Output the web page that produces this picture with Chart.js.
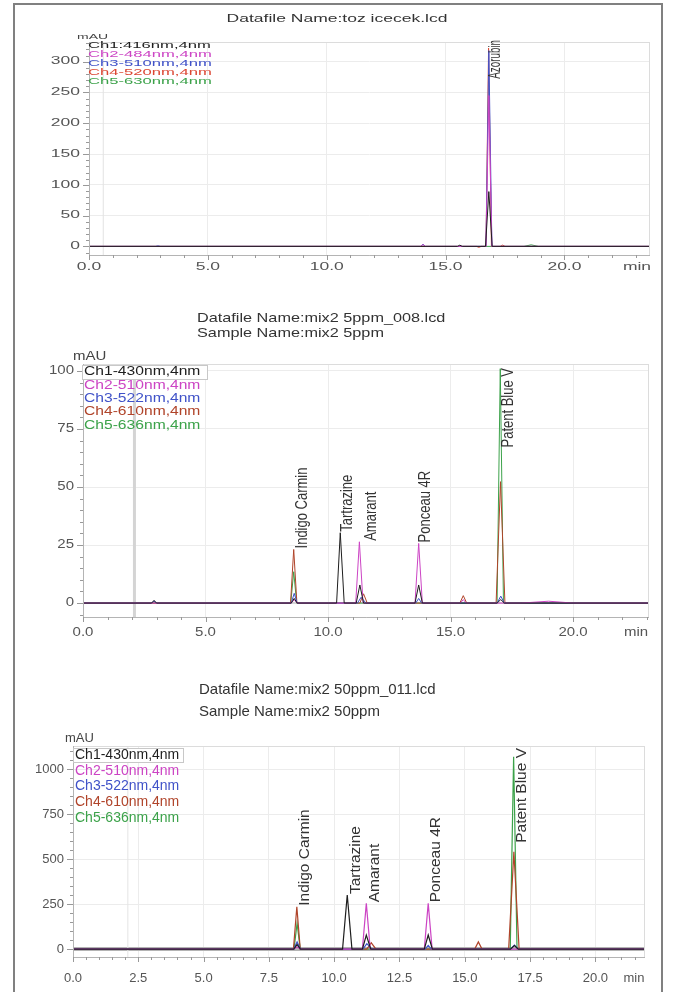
<!DOCTYPE html>
<html lang="en">
<head>
<meta charset="UTF-8">
<title>Chromatograms</title>
<script src="https://cdn.jsdelivr.net/npm/chart.js@4.4.1/dist/chart.umd.min.js"></script>
<style>
    html, body { margin:0; padding:0; background:#fff; overflow:hidden; }
    #frame { position:absolute; left:13px; top:3px; width:646px; height:1010px; border:2px solid #808080; }
    canvas { position:absolute; left:0; }
</style>
</head>
<body>
<div id="frame"></div>
<canvas id="c1" width="673" height="290" style="top:0px"></canvas>
<canvas id="c2" width="673" height="360" style="top:290px"></canvas>
<canvas id="c3" width="673" height="342" style="top:650px"></canvas>
<script>
    // ---------- data (time in min, signal in mAU) ----------

    // panel 1 : toz icecek
    const p1Title = ['Datafile Name:toz icecek.lcd'];
    const p1Legend = ['Ch1:416nm,4nm', 'Ch2-484nm,4nm', 'Ch3-510nm,4nm', 'Ch4-520nm,4nm', 'Ch5-630nm,4nm'];
    const p1Ch1 = [[0,0],[15.5,0],[15.6,2],[15.7,0],[16.68,0],[16.82,89],[16.96,0],[23.6,0]];
    const p1Ch2 = [[0,0],[13.95,0],[14.05,3],[14.15,0],[16.7,0],[16.82,245],[16.95,0],[23.6,0]];
    const p1Ch3 = [[0,0],[2.8,0],[2.9,0.8],[3.0,0],[13.95,0],[14.05,3.5],[14.15,0],[16.7,0],[16.82,318],[16.95,0],[23.6,0]];
    const p1Ch4 = [[0,0],[16.3,0],[16.4,-1.5],[16.5,0],[16.7,0],[16.81,322],[16.93,0],[17.3,0],[17.4,2],[17.5,0],[23.6,0]];
    const p1Ch5 = [[0,0],[18.3,0],[18.6,2.5],[18.9,0],[23.6,0]];
    const p1Peaks = ['Azorubin'];
    const p1PeakTimes = [16.82];
    const p1PeakApex = [322];
    const p1Markers = [0.6];

    // panel 2 : mix2 5ppm
    const p2Title = ['Datafile Name:mix2 5ppm_008.lcd', 'Sample Name:mix2 5ppm'];
    const p2Legend = ['Ch1-430nm,4nm', 'Ch2-510nm,4nm', 'Ch3-522nm,4nm', 'Ch4-610nm,4nm', 'Ch5-636nm,4nm'];
    const p2Ch1 = [[0,0],[2.8,0],[2.9,1.2],[3.0,0],[8.5,0],[8.62,2],[8.74,0],[10.35,0],[10.5,30.3],[10.66,0],[11.15,0],[11.3,7.8],[11.45,0],[13.55,0],[13.7,7.8],[13.85,0],[16.9,0],[17.05,1.5],[17.2,0],[23.1,0]];
    const p2Ch2 = [[0,0],[8.5,0],[8.62,1.5],[8.74,0],[11.13,0],[11.28,26.4],[11.43,0],[13.55,0],[13.7,25.7],[13.85,0],[15.4,0],[15.52,1.5],[15.64,0],[17.9,0],[19,0.8],[20,0],[23.1,0]];
    const p2Ch3 = [[0,0],[2.8,0],[2.9,0.8],[3.0,0],[8.5,0],[8.62,4.2],[8.74,0],[11.2,0],[11.35,2.5],[11.55,0],[13.58,0],[13.7,2],[13.82,0],[16.9,0],[17.05,3],[17.2,0],[23.1,0]];
    const p2Ch4 = [[0,0],[8.47,0],[8.6,23.1],[8.73,0],[11.3,0],[11.45,4],[11.6,0],[15.38,0],[15.52,3.2],[15.66,0],[16.86,0],[17.04,52.3],[17.22,0],[23.1,0]];
    const p2Ch5 = [[0,0],[8.48,0],[8.6,13.5],[8.72,0],[16.9,0],[17.03,101],[17.16,0],[23.1,0]];
    const p2Peaks = ['Indigo Carmin', 'Tartrazine', 'Amarant', 'Ponceau 4R', 'Patent Blue V'];
    const p2PeakTimes = [8.62, 10.45, 11.43, 13.67, 17.06];
    const p2PeakApex = [23.1, 30.3, 26.4, 25.7, 101];
    const p2Markers = [2.1];

    // panel 3 : mix2 50ppm
    const p3Title = ['Datafile Name:mix2 50ppm_011.lcd', 'Sample Name:mix2 50ppm'];
    const p3Legend = ['Ch1-430nm,4nm', 'Ch2-510nm,4nm', 'Ch3-522nm,4nm', 'Ch4-610nm,4nm', 'Ch5-636nm,4nm'];
    const p3Ch1 = [[0,0],[8.45,0],[8.58,25],[8.71,0],[10.32,0],[10.5,300],[10.68,0],[11.08,0],[11.23,78],[11.4,0],[13.45,0],[13.6,78],[13.76,0],[16.75,0],[16.9,20],[17.05,0],[21.9,0]];
    const p3Ch2 = [[0,0],[8.45,0],[8.58,12],[8.71,0],[11.08,0],[11.23,254],[11.38,0],[13.45,0],[13.6,254],[13.75,0],[21.9,0]];
    const p3Ch3 = [[0,0],[8.45,0],[8.58,40],[8.71,0],[11.1,0],[11.25,30],[11.45,0],[13.48,0],[13.6,20],[13.72,0],[16.75,0],[16.9,22],[17.05,0],[21.9,0]];
    const p3Ch4 = [[0,0],[8.44,0],[8.57,235],[8.7,0],[11.25,0],[11.42,35],[11.6,0],[15.38,0],[15.52,40],[15.66,0],[16.68,0],[16.88,540],[17.08,0],[21.9,0]];
    const p3Ch5 = [[0,0],[8.46,0],[8.58,144],[8.7,0],[16.74,0],[16.87,1068],[17.0,0],[21.9,0]];
    const p3Peaks = ['Indigo Carmin', 'Tartrazine', 'Amarant', 'Ponceau 4R', 'Patent Blue V'];
    const p3PeakTimes = [8.55, 10.5, 11.23, 13.57, 16.87];
    const p3PeakApex = [235, 300, 254, 254, 1068];
    const p3Markers = [2.1];

    // ---------- drawing ----------
    const FONT = '"Liberation Sans", Arial, sans-serif';

    function txt(ctx, s, x, y, o) {
        ctx.save();
        ctx.translate(x, y);
        ctx.scale(o.sx || 1, 1);
        if (o.rot) ctx.rotate(-Math.PI / 2);
        ctx.font = o.size + 'px ' + FONT;
        ctx.fillStyle = o.color || '#333';
        ctx.textAlign = o.align || 'left';
        ctx.textBaseline = 'middle';
        ctx.fillText(s, 0, 0);
        ctx.restore();
    }

    function textLen(ctx, s, size) {
        ctx.save();
        ctx.font = size + 'px ' + FONT;
        let w = ctx.measureText(s).width;
        ctx.restore();
        return w;
    }

    function makeChart(P) {
        let a = P.area;
        const colors = P.colors;
        let datasets = P.channels.map(function (ch, i) {
            return {
                data: ch.map(p => ({x: p[0], y: p[1]})),
                showLine: true,
                borderColor: colors[i],
                borderWidth: P.lineW,
                pointRadius: 0,
                tension: 0,
                order: i
            };
        });

        const decor = {
            id: 'decor',
            beforeDatasetsDraw(chart) {
                let ctx = chart.ctx, xs = chart.scales.x, ca = chart.chartArea;
                ctx.save();
                ctx.strokeStyle = P.markerColor;
                ctx.lineWidth = P.markerW;
                P.markers.forEach(function (t) {
                    let px = xs.getPixelForValue(t);
                    ctx.beginPath();
                    ctx.moveTo(px, ca.top);
                    ctx.lineTo(px, ca.bottom);
                    ctx.stroke();
                });
                ctx.restore();
            },
            afterDraw(chart) {
                let ctx = chart.ctx, xs = chart.scales.x, ys = chart.scales.y, ca = chart.chartArea;
                ctx.save();
                // plot frame
                ctx.strokeStyle = '#dcdcdc';
                ctx.lineWidth = 1;
                ctx.strokeRect(ca.left + 0.5, ca.top + 0.5, ca.right - ca.left - 1, ca.bottom - ca.top);
                ctx.strokeStyle = '#b4b4b4';
                ctx.beginPath();
                ctx.moveTo(ca.left + 0.5, ca.top);
                ctx.lineTo(ca.left + 0.5, ca.bottom + 0.5);
                ctx.lineTo(ca.right, ca.bottom + 0.5);
                ctx.stroke();

                // tick marks (major + minor)
                ctx.strokeStyle = '#999';
                ctx.beginPath();
                for (let k = Math.ceil(P.x[0] / P.x[3]); k * P.x[3] <= P.x[1] + 1e-9; k++) {
                    let v = k * P.x[3];
                    let major = Math.abs(v / P.x[2] - Math.round(v / P.x[2])) < 1e-6;
                    let px = Math.round(xs.getPixelForValue(v)) + 0.5;
                    ctx.moveTo(px, ca.bottom);
                    ctx.lineTo(px, ca.bottom + (major ? 5 : 3));
                }
                for (let k = Math.ceil(P.y[0] / P.y[3]); k * P.y[3] <= P.y[1] + 1e-9; k++) {
                    let v = k * P.y[3];
                    let major = Math.abs(v / P.y[2] - Math.round(v / P.y[2])) < 1e-6;
                    let py = Math.round(ys.getPixelForValue(v)) + 0.5;
                    ctx.moveTo(ca.left, py);
                    ctx.lineTo(ca.left - (major ? 6 : 3), py);
                }
                ctx.stroke();

                // tick labels
                xs.ticks.forEach(function (t) {
                    txt(ctx, t.value.toFixed(1), xs.getPixelForValue(t.value), P.xLabelY, {size: P.tick, sx: P.sx, align: 'center', color: '#555'});
                });
                ys.ticks.forEach(function (t) {
                    txt(ctx, String(t.value), P.yLabelX, ys.getPixelForValue(t.value), {size: P.tick, sx: P.sx, align: 'right', color: '#555'});
                });
                txt(ctx, 'min', P.minX, P.xLabelY, {size: P.tick, sx: P.sx, align: 'center', color: '#555'});
                txt(ctx, 'mAU', P.mau[0], P.mau[1], {size: P.mauSize, sx: P.sx, color: '#444'});

                // titles
                P.title.forEach(function (s, i) {
                    txt(ctx, s, P.titlePos[0], P.titlePos[1] + i * P.titlePos[2], {size: P.titleSize, sx: P.sx, align: P.titleAlign, color: '#333'});
                });

                // channel legend
                if (P.legendBox) {
                    let b = P.legendBox;
                    ctx.fillStyle = '#fff';
                    ctx.fillRect(b[0], b[1], b[2], b[3]);
                    ctx.strokeStyle = '#c8c8c8';
                    ctx.strokeRect(b[0] + 0.5, b[1] + 0.5, b[2], b[3]);
                }
                P.legend.forEach(function (s, i) {
                    txt(ctx, s, P.legendPos[0], P.legendPos[1] + i * P.legendPos[2], {size: P.legendSize, sx: P.sx, color: colors[i]});
                });

                // peak names
                P.peaks.forEach(function (name, i) {
                    let len = textLen(ctx, name, P.labelSize);
                    let bottom = Math.max(ys.getPixelForValue(P.apex[i]) - 1, ca.top + P.labelGap + len);
                    txt(ctx, name, xs.getPixelForValue(P.peakTimes[i]) + P.labelOff, bottom, {size: P.labelSize, sx: P.sx, rot: true, color: '#333'});
                });
                ctx.restore();
            }
        };

        return new Chart(document.getElementById(P.canvas), {
            type: 'scatter',
            data: {datasets: datasets},
            options: {
                responsive: false,
                animation: false,
                events: [],
                layout: {padding: {left: a[0], right: 673 - a[1], top: a[2], bottom: P.h - a[3]}},
                plugins: {legend: {display: false}, tooltip: {enabled: false}},
                scales: {
                    x: {
                        type: 'linear', min: P.x[0], max: P.x[1],
                        ticks: {display: false, stepSize: P.x[2], includeBounds: false},
                        grid: {color: '#ececec', drawTicks: false},
                        border: {display: false},
                        afterFit: function (s) { s.height = 0; }
                    },
                    y: {
                        type: 'linear', min: P.y[0], max: P.y[1],
                        ticks: {display: false, stepSize: P.y[2], includeBounds: false},
                        grid: {
                            drawTicks: false,
                            color: c => (c.tick && c.tick.value === 0) ? P.zero[1] : '#ececec',
                            lineWidth: c => (c.tick && c.tick.value === 0) ? P.zero[0] : 1
                        },
                        border: {display: false},
                        afterFit: function (s) { s.width = 0; }
                    }
                }
            },
            plugins: [decor]
        });
    }

    // panel 1
    makeChart({
        canvas: 'c1', h: 290, area: [89, 650, 42, 255],
        x: [0, 23.6, 5, 1], y: [-14, 332, 50, 10],
        channels: [p1Ch1, p1Ch2, p1Ch3, p1Ch4, p1Ch5],
        colors: ['#1e1e1e', '#cc44c4', '#4052c8', '#dc4632', '#3ca24a'],
        lineW: 1, sx: 1.75, tick: 10, titleSize: 10, legendSize: 9.5, labelSize: 9.8, mauSize: 8,
        title: p1Title, titlePos: [337, 19, 0], titleAlign: 'center',
        legend: p1Legend, legendPos: [88, 45, 9], legendBox: null,
        mau: [77, 37], yLabelX: 80, xLabelY: 267, minX: 637,
        peaks: p1Peaks, peakTimes: p1PeakTimes, apex: p1PeakApex, labelGap: -2, labelOff: 6,
        markers: p1Markers, markerColor: '#e2e2e2', markerW: 1, zero: [1, '#ececec']
    });

    // panel 2
    makeChart({
        canvas: 'c2', h: 360, area: [83, 649, 74, 327],
        x: [0, 23.1, 5, 1], y: [-6, 103, 25, 5],
        channels: [p2Ch1, p2Ch2, p2Ch3, p2Ch4, p2Ch5],
        colors: ['#1e1e1e', '#cc44c4', '#4052c8', '#b0442a', '#3ca24a'],
        lineW: 1, sx: 1.25, tick: 12, titleSize: 13, legendSize: 12.5, labelSize: 13, mauSize: 12,
        title: p2Title, titlePos: [197, 28, 15], titleAlign: 'left',
        legend: p2Legend, legendPos: [84, 82, 13.3], legendBox: [82, 75, 125, 14],
        mau: [73, 67], yLabelX: 74, xLabelY: 343, minX: 636,
        peaks: p2Peaks, peakTimes: p2PeakTimes, apex: p2PeakApex, labelGap: 4, labelOff: 8,
        markers: p2Markers, markerColor: '#d4d4d4', markerW: 3, zero: [2, '#d6d6d6']
    });

    // panel 3
    makeChart({
        canvas: 'c3', h: 342, area: [73, 645, 96, 307],
        x: [0, 21.9, 2.5, 0.5], y: [-44, 1128, 250, 50],
        channels: [p3Ch1, p3Ch2, p3Ch3, p3Ch4, p3Ch5],
        colors: ['#1e1e1e', '#cc44c4', '#4052c8', '#b0442a', '#3ca24a'],
        lineW: 1.2, sx: 1.0, tick: 13, titleSize: 15, legendSize: 14, labelSize: 15.5, mauSize: 13,
        title: p3Title, titlePos: [199, 40, 22], titleAlign: 'left',
        legend: p3Legend, legendPos: [75, 105, 15.7], legendBox: [73, 98, 110, 14],
        mau: [65, 88], yLabelX: 64, xLabelY: 328, minX: 634,
        peaks: p3Peaks, peakTimes: p3PeakTimes, apex: p3PeakApex, labelGap: 2, labelOff: 8,
        markers: p3Markers, markerColor: '#e4e4e4', markerW: 1, zero: [4, '#b4b4b4']
    });
</script>
</body>
</html>
